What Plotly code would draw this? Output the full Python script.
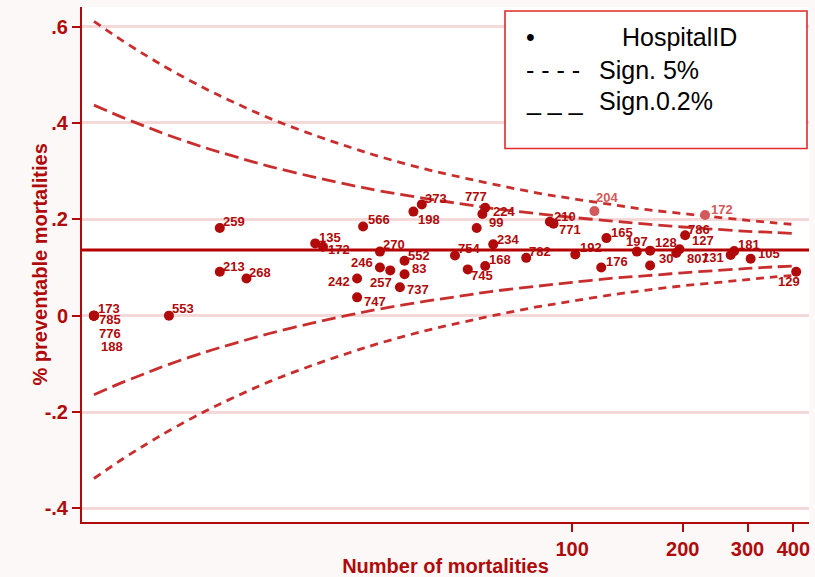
import numpy as np
import plotly.graph_objects as go

# ---- hospital data: number of mortalities and share judged preventable ----
hospital_ids = ["173", "785", "776", "188", "553", "259", "213", "268", "135", "172",
                "566", "270", "246", "257", "242", "747", "552", "83", "737", "198",
                "373", "754", "777", "224", "99", "234", "745", "168", "782", "210",
                "771", "192", "204", "176", "165", "197", "128", "30", "127", "807",
                "786", "172", "131", "181", "105", "129"]
mortalities = [5, 5, 5, 5, 8, 11, 11, 13, 20, 21,
               27, 30, 30, 32, 26, 26, 35, 35, 34, 37,
               39, 48, 58, 57, 55, 61, 52, 58, 75, 87,
               89, 102, 115, 120, 124, 150, 163, 163, 196, 192,
               203, 230, 270, 276, 306, 407]
preventable_share = [0.0, 0.0, 0.0, 0.0, 0.0, 0.182, 0.091, 0.077, 0.150, 0.143,
                     0.185, 0.133, 0.100, 0.094, 0.077, 0.038, 0.114, 0.086, 0.059, 0.216,
                     0.231, 0.125, 0.224, 0.211, 0.182, 0.148, 0.096, 0.103, 0.120, 0.195,
                     0.191, 0.127, 0.217, 0.100, 0.161, 0.133, 0.135, 0.104, 0.138, 0.130,
                     0.167, 0.209, 0.126, 0.134, 0.118, 0.091]
# hospitals drawn in a lighter tone (outside the 5% band)
flagged_ids = {32, 41}

# overall mean share
mean_share = 0.1365

# ---- funnel limits ----
limit_n = [5, 6, 7, 8, 10, 12, 15, 20, 25, 30, 40, 50, 60, 80, 100, 130, 160, 200, 250, 300, 350, 407]
upper_5 = [0.437, 0.411, 0.391, 0.374, 0.349, 0.331, 0.310, 0.287, 0.271, 0.259, 0.243,
           0.232, 0.223, 0.212, 0.204, 0.196, 0.190, 0.184, 0.179, 0.175, 0.173, 0.170]
lower_5 = [-0.164, -0.138, -0.118, -0.101, -0.076, -0.058, -0.037, -0.014, 0.002, 0.014, 0.030,
           0.041, 0.050, 0.061, 0.069, 0.078, 0.083, 0.089, 0.094, 0.098, 0.101, 0.103]
upper_02 = [0.611, 0.570, 0.538, 0.512, 0.472, 0.443, 0.410, 0.374, 0.349, 0.330, 0.304,
            0.287, 0.274, 0.255, 0.243, 0.230, 0.220, 0.212, 0.204, 0.198, 0.193, 0.189]
lower_02 = [-0.338, -0.297, -0.265, -0.239, -0.199, -0.170, -0.137, -0.101, -0.076, -0.057, -0.031,
            -0.014, -0.001, 0.018, 0.030, 0.044, 0.053, 0.062, 0.069, 0.075, 0.080, 0.084]

# ---- axis ticks ----
y_tickvals = [-0.4, -0.2, 0.0, 0.2, 0.4, 0.6]
y_ticktext = ["-.4", "-.2", "0", ".2", ".4", ".6"]
x_tickvals = [100, 200, 300, 400]
x_ticktext = ["100", "200", "300", "400"]

# ---- styling ----
DARK = "#b00a0a"
LIGHT = "#d25a5a"
LIMIT = "#c92e2e"
FONT = "Liberation Sans, Arial, sans-serif"

W, H = 815, 577
M_L, M_R, M_T, M_B = 82, 6, 7, 55
PW, PH = W - M_L - M_R, H - M_T - M_B


def px_x(px):
    return (px - M_L) / PW


def px_y(py):
    return (H - M_B - py) / PH


# label placement per hospital: (anchor, x shift, y shift) in pixels
label_place = [
    ("left", 2, 7), ("left", 3, -4), ("left", 3, -18), ("left", 5, -31), ("left", 1, 7),
    ("left", 1, 6), ("left", 1, 5), ("left", 1, 6), ("left", 2, 6), ("left", 3, -3),
    ("left", 3, 7), ("left", 1, 7), ("right", -5, 5), ("center", -9, -12), ("right", -5, -3),
    ("left", 5, -4), ("left", 1, 5), ("left", 5, 6), ("left", 5, -2), ("left", 3, -8),
    ("left", 1, 6), ("left", 1, 7), ("center", -9, 11), ("left", 9, 3), ("left", 10, 5),
    ("left", 2, 5), ("left", 1, -6), ("left", 2, 7), ("left", 1, 6), ("left", 2, 5),
    ("left", 3, -6), ("left", 3, 7), ("left", 0, 14), ("left", 3, 6), ("left", 3, 6),
    ("center", 0, 10), ("left", 3, 8), ("left", 7, 7), ("left", 10, 9), ("left", 9, -5),
    ("left", 1, 6), ("left", 4, 5), ("right", -5, -3), ("left", 2, 7), ("left", 5, 5),
    ("center", -7, -10),
]

fig = go.Figure()

# funnel limits
fig.add_trace(go.Scatter(x=limit_n, y=upper_02, mode="lines", name="Sign.0.2%",
                         line=dict(color=LIMIT, width=2.8, dash="8px,6px", shape="spline"),
                         hoverinfo="skip"))
fig.add_trace(go.Scatter(x=limit_n, y=lower_02, mode="lines", name="Sign.0.2%",
                         line=dict(color=LIMIT, width=2.8, dash="8px,6px", shape="spline"),
                         hoverinfo="skip"))
fig.add_trace(go.Scatter(x=limit_n, y=upper_5, mode="lines", name="Sign. 5%",
                         line=dict(color=LIMIT, width=2.8, dash="14px,6px", shape="spline"),
                         hoverinfo="skip"))
fig.add_trace(go.Scatter(x=limit_n, y=lower_5, mode="lines", name="Sign. 5%",
                         line=dict(color=LIMIT, width=2.8, dash="14px,6px", shape="spline"),
                         hoverinfo="skip"))

# mean line
fig.add_shape(type="line", xref="paper", yref="y", x0=0, x1=1, y0=mean_share, y1=mean_share,
              line=dict(color="#b50000", width=3), layer="above")

# hospitals
point_colors = [LIGHT if i in flagged_ids else DARK for i in range(len(hospital_ids))]
fig.add_trace(go.Scatter(x=mortalities, y=preventable_share, mode="markers", name="HospitalID",
                         text=hospital_ids,
                         marker=dict(size=10, color=point_colors, line=dict(width=0))))

for i, (hid, n, v) in enumerate(zip(hospital_ids, mortalities, preventable_share)):
    anchor, dx, dy = label_place[i]
    fig.add_annotation(x=np.log10(n), y=v, xref="x", yref="y", text=hid, showarrow=False,
                       xanchor=anchor, yanchor="middle", xshift=dx, yshift=dy,
                       font=dict(family=FONT, size=13, weight="bold",
                                 color=LIGHT if i in flagged_ids else DARK))

# y axis title
fig.add_annotation(xref="paper", yref="paper", x=px_x(39), y=0.5, text="% preventable mortalities",
                   textangle=-90, showarrow=False, xanchor="center", yanchor="middle",
                   font=dict(family=FONT, size=20, weight="bold", color=DARK))

# legend box drawn as text
fig.add_shape(type="rect", xref="paper", yref="paper",
              x0=px_x(505), x1=px_x(807), y0=px_y(148.5), y1=px_y(11),
              line=dict(color="#e02a2a", width=1.6), fillcolor="white", layer="above")
legend_rows = [("\u2022", "HospitalID", 37, 620), ("- - - -", "Sign. 5%", 70, 597),
               ("_ _ _", "Sign.0.2%", 101, 597)]
for sym, lab, yy, xl in legend_rows:
    fig.add_annotation(xref="paper", yref="paper", x=px_x(524), y=px_y(yy), text=sym,
                       showarrow=False, xanchor="left", yanchor="middle",
                       font=dict(family=FONT, size=25, color="black"))
    fig.add_annotation(xref="paper", yref="paper", x=px_x(xl), y=px_y(yy), text=lab,
                       showarrow=False, xanchor="left", yanchor="middle",
                       font=dict(family=FONT, size=25, color="black"))

fig.update_layout(
    width=W, height=H,
    margin=dict(l=M_L, r=M_R, t=M_T, b=M_B, autoexpand=False),
    paper_bgcolor="#fbf8f7", plot_bgcolor="white",
    showlegend=False,
    font=dict(family=FONT, color=DARK),
)
fig.update_xaxes(
    type="log", range=[np.log10(4.64), np.log10(441)],
    tickvals=x_tickvals, ticktext=x_ticktext,
    ticks="outside", ticklen=8, tickwidth=2, tickcolor=DARK,
    tickfont=dict(family=FONT, size=20, weight="bold", color=DARK),
    showline=True, linecolor=DARK, linewidth=2,
    showgrid=False, zeroline=False,
    title=dict(text="Number of mortalities", standoff=6,
               font=dict(family=FONT, size=20, weight="bold", color=DARK)),
)
fig.update_yaxes(
    range=[-0.4283, 0.6407],
    tickvals=y_tickvals, ticktext=y_ticktext,
    ticks="outside", ticklen=8, tickwidth=2, tickcolor=DARK,
    tickfont=dict(family=FONT, size=20, weight="bold", color=DARK),
    showline=True, linecolor=DARK, linewidth=2,
    showgrid=True, gridcolor="#f5d8d8", gridwidth=3, zeroline=False,
)

fig.write_html("out.html")
